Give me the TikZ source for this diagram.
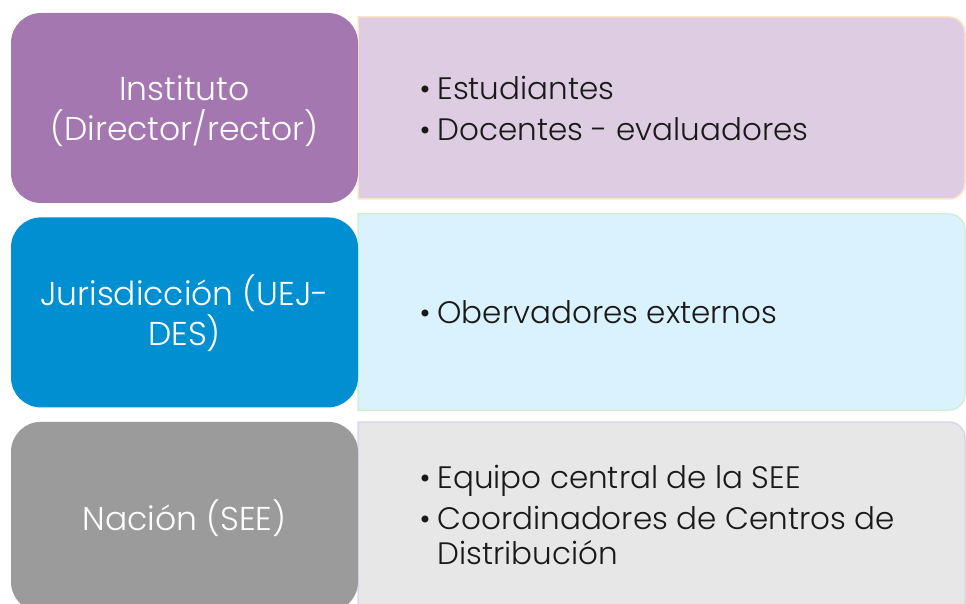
\documentclass[tikz,border=0pt]{standalone}
\usepackage{fontspec}
\setmainfont{Poppins Light}
\usetikzlibrary{positioning}

\definecolor{instfill}{HTML}{A577B0}
\definecolor{jurfill}{HTML}{0090D2}
\definecolor{nacfill}{HTML}{9B9B9B}
\definecolor{instlight}{HTML}{DECDE2}
\definecolor{jurlight}{HTML}{DAF2FD}
\definecolor{naclight}{HTML}{E7E7E7}
\definecolor{instedge}{HTML}{FCE4C8}
\definecolor{juredge}{HTML}{CFF0D8}
\definecolor{nacedge}{HTML}{D5D9EB}

\tikzset{
  levelbox/.style={rectangle,rounded corners=30pt,minimum width=347pt,
    minimum height=190pt},
  leveltext/.style={text=white,align=center,font=\fontsize{33}{40}\selectfont},
  detailtext/.style={anchor=west,align=left,text=black!90,
    font=\fontsize{31}{41}\selectfont},
  detailbox/.style={line width=1.5pt}
}

\newcommand{\bul}{\makebox[18pt][l]{\fontsize{30}{30}\selectfont\textbullet}}

\begin{document}
\begin{tikzpicture}[x=1pt,y=-1pt]
  \useasboundingbox (0,0) rectangle (966,604);

  % right hand boxes
  \filldraw[detailbox,fill=instlight,draw=instedge] (358,17) -- (949,17)
    arc[start angle=-90,end angle=0,radius=16] -- (965,183)
    arc[start angle=0,end angle=90,radius=16] -- (358,199) -- cycle;
  \filldraw[detailbox,fill=jurlight,draw=juredge] (358,214) -- (949,214)
    arc[start angle=-90,end angle=0,radius=16] -- (965,394)
    arc[start angle=0,end angle=90,radius=16] -- (358,410) -- cycle;
  \filldraw[detailbox,fill=naclight,draw=nacedge] (358,422) -- (949,422)
    arc[start angle=-90,end angle=0,radius=16] -- (965,604)
    -- (965,620) -- (358,620) -- cycle;

  % left hand boxes
  \node[levelbox,fill=instfill] (inst) at (184.5,108) {};
  \node[levelbox,fill=jurfill,below=14pt of inst] (jur) {};
  \node[levelbox,fill=nacfill,below=14pt of jur] (nac) {};
  \node[leveltext] (insttext) at ([yshift=-3pt]inst.center) {Instituto\\(Director/rector)};
  \node[leveltext] (jurtext) at ([yshift=-1pt]jur.center) {Jurisdicción (UEJ-\\DES)};
  \node[leveltext] (nactext) at ([yshift=-1pt]nac.center) {Nación (SEE)};

  % lists
  \node[detailtext] (instlist) at (416,108)
    {\bul Estudiantes\\ \bul Docentes - evaluadores};
  \node[detailtext] (jurlist) at (416,312) {\bul Obervadores externos};
  \node[detailtext] (naclist) at (416,515)
    {\bul Equipo central de la SEE\\ \bul Coordinadores de Centros de\\[-6pt]
     \hspace*{18pt}Distribución};
\end{tikzpicture}
\end{document}
